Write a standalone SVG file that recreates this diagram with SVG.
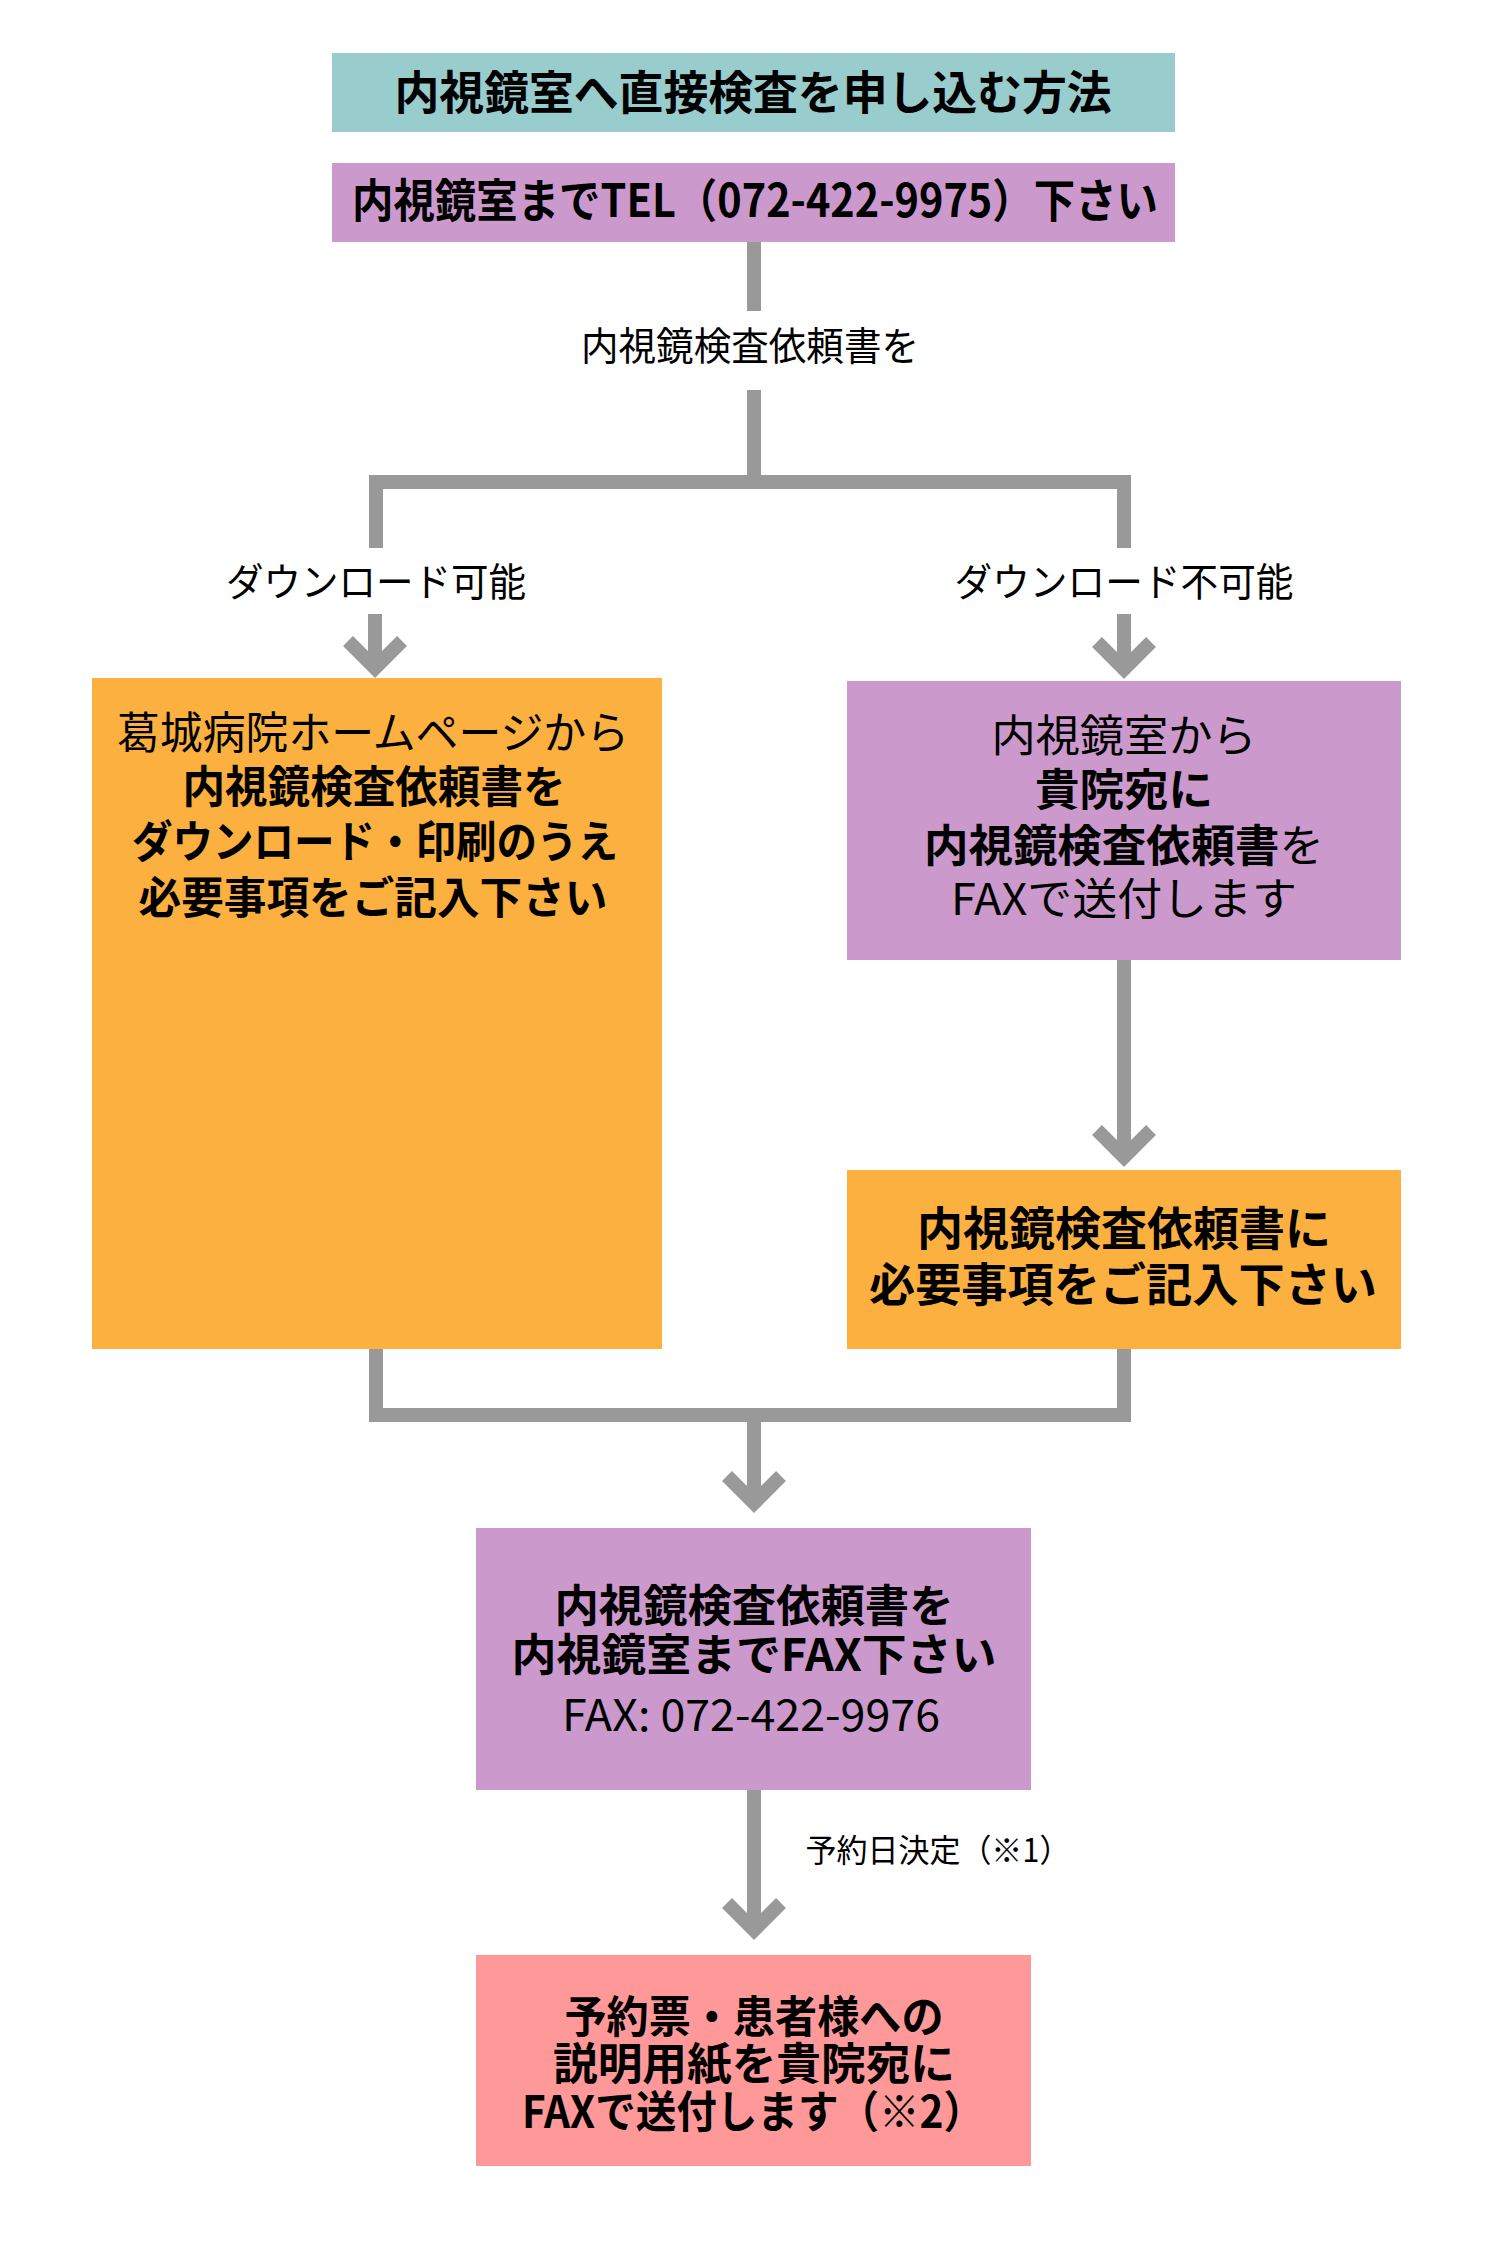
<svg xmlns="http://www.w3.org/2000/svg" width="1500" height="2243" viewBox="0 0 1500 2243">
<style>
.bg{fill:#ffffff}
.teal{fill:#99CCCC}
.purple{fill:#CC99CC}
.orange{fill:#FBB040}
.pink{fill:#FF9999}
.conn{fill:none;stroke:#999999;stroke-width:14;stroke-linejoin:miter;stroke-linecap:butt}
text{font-family:"Noto Sans CJK JP","Noto Sans",sans-serif;fill:#000000;text-anchor:middle}
.b{font-weight:700}
.r{font-weight:400}
.lbl{font-size:39px;font-weight:400}
.t44{font-size:44px}
.t46{font-size:46px}
</style>
<rect class="bg" x="0" y="0" width="1500" height="2243"/>

<g id="connectors">
  <path class="conn" d="M754,242 V311"/>
  <path class="conn" d="M754,390 V482 M376,548 V482 H1124 V548"/>
  <path class="conn" d="M375,614 V668 M348,641 L375,668 L402,641"/>
  <path class="conn" d="M1124,614 V669 M1097,642 L1124,669 L1151,642"/>
  <path class="conn" d="M1124,960 V1157 M1097,1130 L1124,1157 L1151,1130"/>
  <path class="conn" d="M376,1349 V1415 H1124 V1349"/>
  <path class="conn" d="M754,1422 V1503 M727,1476 L754,1503 L781,1476"/>
  <path class="conn" d="M754,1790 V1930 M727,1903 L754,1930 L781,1903"/>
</g>

<g id="labels">
  <text class="lbl" x="750" y="360" textLength="338" lengthAdjust="spacingAndGlyphs">内視鏡検査依頼書を</text>
  <text class="lbl" x="376" y="596" textLength="300" lengthAdjust="spacingAndGlyphs">ダウンロード可能</text>
  <text class="lbl" x="1124" y="596" textLength="339" lengthAdjust="spacingAndGlyphs">ダウンロード不可能</text>
  <text x="938" y="1862" style="font-size:32px" textLength="265" lengthAdjust="spacingAndGlyphs">予約日決定（※1）</text>
</g>

<g id="title">
  <rect class="teal" x="332" y="53" width="843" height="79"/>
  <text class="b t46" x="753" y="109" textLength="717" lengthAdjust="spacingAndGlyphs">内視鏡室へ直接検査を申し込む方法</text>
</g>

<g id="tel">
  <rect class="purple" x="332" y="163" width="843" height="79"/>
  <text class="b t46" x="755" y="217" textLength="806" lengthAdjust="spacingAndGlyphs">内視鏡室までTEL（072-422-9975）下さい</text>
</g>

<g id="download-ok">
  <rect class="orange" x="92" y="678" width="570" height="671"/>
  <text class="r t44" x="373" y="749" textLength="512" lengthAdjust="spacingAndGlyphs">葛城病院ホームページから</text>
  <text class="b t44" x="374" y="803" textLength="383" lengthAdjust="spacingAndGlyphs">内視鏡検査依頼書を</text>
  <text class="b t44" x="375" y="858" textLength="486" lengthAdjust="spacingAndGlyphs">ダウンロード・印刷のうえ</text>
  <text class="b t44" x="373" y="914" textLength="469" lengthAdjust="spacingAndGlyphs">必要事項をご記入下さい</text>
</g>

<g id="download-ng">
  <rect class="purple" x="847" y="681" width="554" height="279"/>
  <text class="r t44" x="1124" y="752" textLength="265" lengthAdjust="spacingAndGlyphs">内視鏡室から</text>
  <text class="b t44" x="1124" y="806" textLength="178" lengthAdjust="spacingAndGlyphs">貴院宛に</text>
  <text class="t44" x="1124" y="862" textLength="400" lengthAdjust="spacingAndGlyphs"><tspan class="b">内視鏡検査依頼書</tspan><tspan class="r">を</tspan></text>
  <text class="r t44" x="1124" y="915" textLength="346" lengthAdjust="spacingAndGlyphs">FAXで送付します</text>
</g>

<g id="fill-in">
  <rect class="orange" x="847" y="1170" width="554" height="179"/>
  <text class="b t46" x="1124" y="1245" textLength="414" lengthAdjust="spacingAndGlyphs">内視鏡検査依頼書に</text>
  <text class="b t46" x="1123" y="1301" textLength="508" lengthAdjust="spacingAndGlyphs">必要事項をご記入下さい</text>
</g>

<g id="fax-request">
  <rect class="purple" x="476" y="1528" width="555" height="262"/>
  <text class="b t44" x="754" y="1622" textLength="399" lengthAdjust="spacingAndGlyphs">内視鏡検査依頼書を</text>
  <text class="b t44" x="754" y="1671" textLength="485" lengthAdjust="spacingAndGlyphs">内視鏡室までFAX下さい</text>
  <text class="r t44" x="751" y="1731" textLength="378" lengthAdjust="spacingAndGlyphs">FAX: 072-422-9976</text>
</g>

<g id="reservation">
  <rect class="pink" x="476" y="1955" width="555" height="211"/>
  <text class="b t44" x="754" y="2033" textLength="379" lengthAdjust="spacingAndGlyphs">予約票・患者様への</text>
  <text class="b t44" x="754" y="2080" textLength="402" lengthAdjust="spacingAndGlyphs">説明用紙を貴院宛に</text>
  <text class="b t44" x="753" y="2128" textLength="462" lengthAdjust="spacingAndGlyphs">FAXで送付します（※2）</text>
</g>
</svg>
